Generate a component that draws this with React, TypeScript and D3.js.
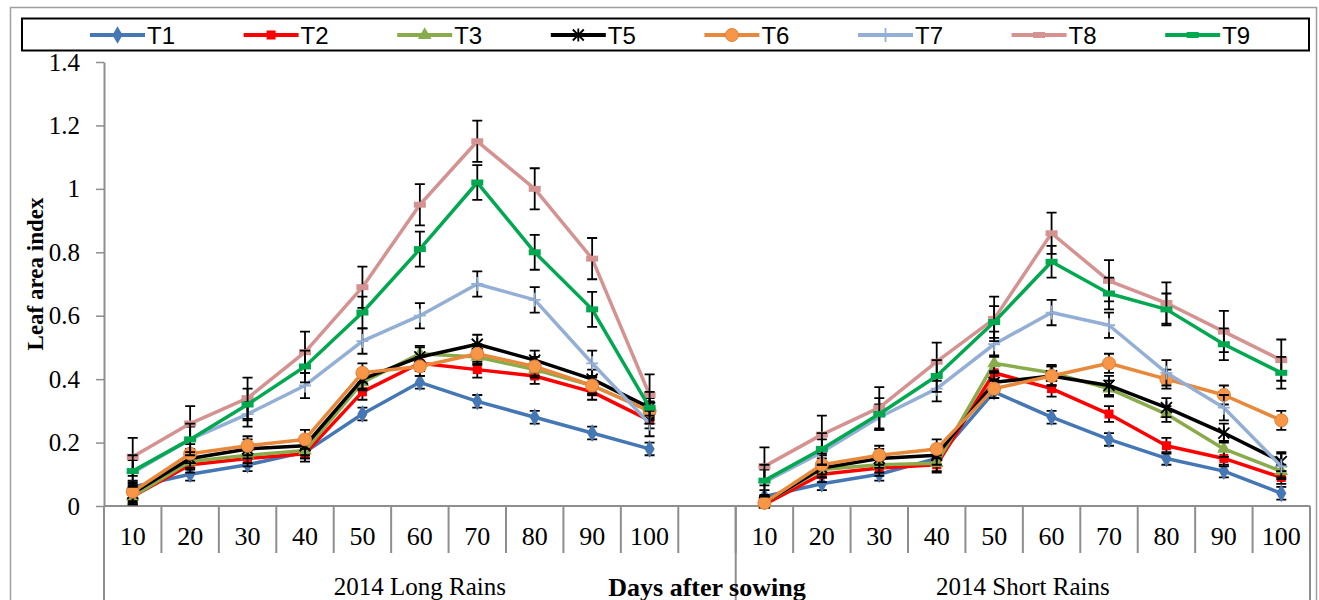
import * as d3 from 'd3'
import { useEffect, useRef } from 'react'

const DAYS = ['10', '20', '30', '40', '50', '60', '70', '80', '90', '100']
const SEASONS = ['2014 Long Rains', '2014 Short Rains']
const Y_TICKS = [0, 0.2, 0.4, 0.6, 0.8, 1, 1.2, 1.4]
const NAMES = ['T1', 'T2', 'T3', 'T5', 'T6', 'T7', 'T8', 'T9']

// values: 10 long rains points, then 10 short rains points
const T1 = [0.06, 0.1, 0.13, 0.17, 0.29, 0.39, 0.33, 0.28, 0.23, 0.18, 0.03, 0.07, 0.1, 0.15, 0.36, 0.28, 0.21, 0.15, 0.11, 0.04]
const T2 = [0.03, 0.13, 0.15, 0.165, 0.36, 0.45, 0.43, 0.41, 0.36, 0.27, 0.005, 0.1, 0.12, 0.13, 0.42, 0.37, 0.29, 0.19, 0.15, 0.09]
const T3 = [0.03, 0.14, 0.16, 0.175, 0.39, 0.48, 0.47, 0.43, 0.38, 0.3, 0.01, 0.115, 0.13, 0.135, 0.45, 0.42, 0.37, 0.29, 0.18, 0.11]
const T5 = [0.04, 0.15, 0.18, 0.19, 0.4, 0.47, 0.51, 0.46, 0.4, 0.31, 0.01, 0.12, 0.15, 0.16, 0.39, 0.41, 0.38, 0.31, 0.23, 0.14]
const T6 = [0.045, 0.165, 0.19, 0.21, 0.42, 0.44, 0.48, 0.44, 0.38, 0.3, 0.01, 0.13, 0.16, 0.18, 0.37, 0.41, 0.45, 0.4, 0.35, 0.27]
const T7 = [0.105, 0.21, 0.29, 0.38, 0.52, 0.6, 0.7, 0.65, 0.45, 0.26, 0.075, 0.17, 0.28, 0.37, 0.51, 0.61, 0.57, 0.42, 0.31, 0.125]
const T8 = [0.155, 0.26, 0.34, 0.485, 0.69, 0.95, 1.15, 1.0, 0.78, 0.35, 0.125, 0.225, 0.31, 0.455, 0.59, 0.86, 0.71, 0.64, 0.55, 0.46]
const T9 = [0.11, 0.21, 0.32, 0.44, 0.61, 0.81, 1.02, 0.8, 0.62, 0.31, 0.08, 0.18, 0.29, 0.41, 0.58, 0.77, 0.67, 0.62, 0.51, 0.42]

// standard errors, same order
const T1_ERR = [0.02, 0.02, 0.02, 0.02, 0.02, 0.02, 0.02, 0.02, 0.02, 0.02, 0.02, 0.02, 0.02, 0.02, 0.02, 0.02, 0.02, 0.02, 0.02, 0.02]
const T2_ERR = [0.025, 0.025, 0.025, 0.025, 0.025, 0.025, 0.025, 0.025, 0.025, 0.025, 0.02, 0.025, 0.025, 0.025, 0.025, 0.025, 0.025, 0.025, 0.025, 0.02]
const T3_ERR = [0.025, 0.025, 0.025, 0.025, 0.025, 0.025, 0.025, 0.025, 0.025, 0.025, 0.02, 0.025, 0.025, 0.025, 0.025, 0.025, 0.025, 0.025, 0.025, 0.02]
const T5_ERR = [0.03, 0.03, 0.03, 0.03, 0.03, 0.03, 0.03, 0.03, 0.03, 0.03, 0.02, 0.03, 0.03, 0.03, 0.03, 0.03, 0.03, 0.03, 0.03, 0.03]
const T6_ERR = [0.03, 0.03, 0.03, 0.03, 0.03, 0.03, 0.03, 0.03, 0.03, 0.03, 0.02, 0.03, 0.03, 0.03, 0.03, 0.03, 0.03, 0.03, 0.03, 0.03]
const T7_ERR = [0.04, 0.04, 0.04, 0.04, 0.04, 0.04, 0.04, 0.04, 0.04, 0.04, 0.04, 0.04, 0.04, 0.04, 0.04, 0.04, 0.04, 0.04, 0.04, 0.04]
const T8_ERR = [0.06, 0.055, 0.065, 0.065, 0.065, 0.065, 0.065, 0.065, 0.065, 0.065, 0.06, 0.06, 0.065, 0.06, 0.07, 0.065, 0.065, 0.065, 0.065, 0.065]
const T9_ERR = [0.05, 0.05, 0.05, 0.05, 0.05, 0.055, 0.055, 0.055, 0.055, 0.05, 0.05, 0.05, 0.05, 0.05, 0.05, 0.05, 0.05, 0.05, 0.05, 0.05]

const VALUES = [T1, T2, T3, T5, T6, T7, T8, T9]
const ERRORS = [T1_ERR, T2_ERR, T3_ERR, T5_ERR, T6_ERR, T7_ERR, T8_ERR, T9_ERR]
const COLORS = ['#4677b5', '#ff0000', '#8aab4b', '#000000', '#e8883a', '#94afd6', '#d49391', '#00a84f']
const MARKERS = ['diamond', 'square', 'triangle', 'star', 'circle', 'plus', 'dash', 'dash']

const SERIF = '"Liberation Serif", "Times New Roman", serif'

type G = d3.Selection<SVGGElement, unknown, null, undefined>

function drawMarker(g: G, type: string, cx: number, cy: number, color: string) {
  if (type === 'diamond') {
    g.append('path').attr('d', d3.symbol(d3.symbolDiamond, 90)()).attr('transform', `translate(${cx},${cy})`).attr('fill', color)
  } else if (type === 'square') {
    g.append('rect').attr('x', cx - 4.5).attr('y', cy - 4.5).attr('width', 9).attr('height', 9).attr('fill', color)
  } else if (type === 'triangle') {
    g.append('path').attr('d', d3.symbol(d3.symbolTriangle, 80)()).attr('transform', `translate(${cx},${cy})`).attr('fill', color)
  } else if (type === 'circle') {
    g.append('circle').attr('cx', cx).attr('cy', cy).attr('r', 6.5).attr('fill', '#f79646').attr('stroke', '#e0803a').attr('stroke-width', 1)
  } else if (type === 'star') {
    const r = 5.5
    g.append('path')
      .attr('d', `M${cx - r},${cy - r}L${cx + r},${cy + r}M${cx - r},${cy + r}L${cx + r},${cy - r}M${cx},${cy - r - 1}L${cx},${cy + r + 1}`)
      .attr('stroke', color).attr('stroke-width', 1.8).attr('fill', 'none')
  } else if (type === 'plus') {
    g.append('path')
      .attr('d', `M${cx - 6},${cy}L${cx + 6},${cy}M${cx},${cy - 7}L${cx},${cy + 7}`)
      .attr('stroke', color).attr('stroke-width', 1.8).attr('fill', 'none')
  } else if (type === 'dash') {
    g.append('rect').attr('x', cx - 6).attr('y', cy - 3).attr('width', 12).attr('height', 6).attr('fill', color)
  }
}

export default function App() {
  const svgRef = useRef<SVGSVGElement>(null)

  useEffect(() => {
    const width = 1319
    const height = 600
    const left = 104
    const right = 1310
    const top = 62
    const bottom = 506

    const keys = [...DAYS.map((d) => 'L' + d), 'gap', ...DAYS.map((d) => 'S' + d)]
    const x = d3.scaleBand().domain(keys).range([left, right]).padding(0)
    const y = d3.scaleLinear().domain([0, 1.4]).range([bottom, top])
    const bw = x.bandwidth()
    const keyAt = (i: number) => (i < 10 ? 'L' + DAYS[i] : 'S' + DAYS[i - 10])
    const cx = (i: number) => (x(keyAt(i)) as number) + bw / 2

    const svg = d3.select(svgRef.current)
    svg.selectAll('*').remove()
    svg.attr('width', width).attr('height', height)

    /* outer frame and legend box */
    svg.append('path')
      .attr('d', `M10.5,${height + 5}V7.5H1316.5V${height + 5}`)
      .attr('fill', 'none').attr('stroke', '#a0a0a0').attr('stroke-width', 1.5)
    svg.append('rect')
      .attr('x', 22).attr('y', 18.5).attr('width', 1287).attr('height', 32)
      .attr('fill', 'white').attr('stroke', '#000').attr('stroke-width', 2)

    const legend = svg.append('g')
    NAMES.forEach((name, i) => {
      const lx = 90 + i * 153.6
      const lg = legend.append('g') as unknown as G
      lg.append('line').attr('x1', lx).attr('x2', lx + 55).attr('y1', 35).attr('y2', 35)
        .attr('stroke', COLORS[i]).attr('stroke-width', 4)
      drawMarker(lg, MARKERS[i], lx + 27.5, 35, COLORS[i])
      lg.append('text').attr('x', lx + 57).attr('y', 43.5)
        .attr('font-family', '"Liberation Sans", Arial, sans-serif').attr('font-size', 24)
        .text(name)
    })

    /* y axis */
    const yAxis = svg.append('g')
      .attr('transform', `translate(${left},0)`)
      .call(d3.axisLeft(y).tickValues(Y_TICKS).tickSize(8).tickSizeOuter(0).tickPadding(16)
        .tickFormat((d) => String(+(+d).toFixed(1))))
    yAxis.select('.domain').attr('stroke', '#8e8e8e').attr('stroke-width', 2)
    yAxis.selectAll('.tick line').attr('stroke', '#8e8e8e').attr('stroke-width', 1.5)
    yAxis.selectAll('.tick text').attr('font-family', SERIF).attr('font-size', 25).attr('fill', '#000')

    svg.append('text')
      .attr('transform', `translate(35,274) rotate(-90)`)
      .attr('text-anchor', 'middle').attr('dy', '0.35em')
      .attr('font-family', SERIF).attr('font-size', 23).attr('font-weight', 'bold')
      .text('Leaf area index')

    /* x axis */
    const xa = svg.append('g').attr('stroke', '#8e8e8e').attr('stroke-width', 2)
    xa.append('line').attr('x1', left).attr('x2', right).attr('y1', bottom).attr('y2', bottom)
    keys.forEach((k, i) => {
      if (i === 0) return
      const bx = x(k) as number
      xa.append('line').attr('x1', bx).attr('x2', bx).attr('y1', bottom).attr('y2', 553)
    })
    const groupEdges = [left, (x('gap') as number) + bw, right]
    groupEdges.forEach((gx) => {
      xa.append('line').attr('x1', gx).attr('x2', gx).attr('y1', bottom).attr('y2', height + 5)
    })

    svg.append('g')
      .attr('font-family', SERIF).attr('font-size', 26).attr('text-anchor', 'middle')
      .selectAll('text')
      .data(keys.filter((k) => k !== 'gap'))
      .join('text')
      .attr('x', (k) => (x(k) as number) + bw / 2)
      .attr('y', 545)
      .text((k) => k.slice(1))

    SEASONS.forEach((s, i) => {
      svg.append('text')
        .attr('x', (groupEdges[i] + groupEdges[i + 1]) / 2).attr('y', 595)
        .attr('text-anchor', 'middle').attr('font-family', SERIF).attr('font-size', 25)
        .text(s)
    })
    svg.append('text')
      .attr('x', 707).attr('y', 596)
      .attr('text-anchor', 'middle').attr('font-family', SERIF).attr('font-size', 26).attr('font-weight', 'bold')
      .text('Days after sowing')

    /* series */
    const line = d3.line<number>().x((_, i) => i).y((v) => v)
    NAMES.forEach((_, si) => {
      const vals = VALUES[si]
      const errs = ERRORS[si]
      const g = svg.append('g') as unknown as G
      ;[0, 10].forEach((start) => {
        const pts = d3.range(start, start + 10).map((i) => [cx(i), y(vals[i])] as [number, number])
        g.append('path')
          .attr('d', d3.line()(pts))
          .attr('fill', 'none').attr('stroke', COLORS[si]).attr('stroke-width', 3.5)
          .attr('stroke-linejoin', 'round')
      })
      vals.forEach((v, i) => {
        const px = cx(i)
        const y0 = y(v + errs[i])
        const y1 = y(Math.max(0, v - errs[i]))
        g.append('path')
          .attr('d', `M${px},${y0}V${y1}M${px - 5},${y0}H${px + 5}M${px - 5},${y1}H${px + 5}`)
          .attr('stroke', '#000').attr('stroke-width', 1.8).attr('fill', 'none')
      })
      vals.forEach((v, i) => drawMarker(g, MARKERS[si], cx(i), y(v), COLORS[si]))
    })
    void line
  }, [])

  return <svg ref={svgRef} style={{ position: 'absolute', left: 0, top: 0, background: 'white' }} />
}
